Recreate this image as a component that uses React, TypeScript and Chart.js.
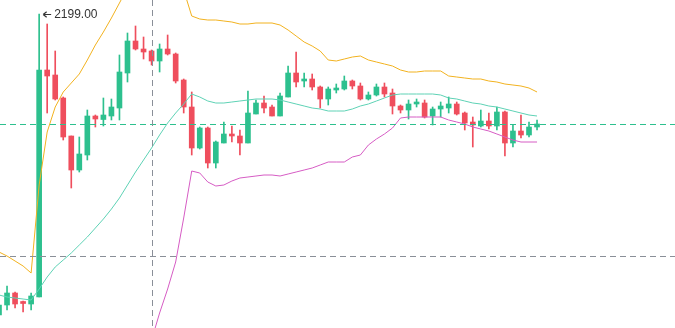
import React, { useEffect, useRef } from 'react';
import { Chart, registerables } from 'chart.js';

Chart.register(...registerables);

// OHLC values, one entry per candle
const opens = [
  1898, 1908, 1920, 1911.5, 1909, 1916, 2143, 2138, 2115, 2077,
  2043, 2058, 2097, 2093.5, 2097, 2105, 2140, 2172, 2164, 2162,
  2152, 2164, 2159, 2133, 2106, 2065, 2085, 2050, 2070, 2079,
  2077, 2070, 2099, 2110, 2106, 2097, 2116, 2140, 2132, 2134,
  2126, 2114, 2123, 2124, 2132, 2127, 2114, 2118, 2126, 2120,
  2107, 2103, 2109, 2110, 2097, 2104, 2105, 2109, 2100, 2091,
  2087, 2092, 2087, 2101, 2070, 2082, 2078, 2086,
];
const highs = [
  1910, 1927, 1921, 1912, 1920, 2199, 2189, 2162, 2116, 2077,
  2076, 2103, 2098, 2115, 2114, 2158, 2180, 2187, 2176, 2163,
  2169, 2178, 2160, 2134, 2121, 2086, 2086, 2072, 2091, 2087,
  2083, 2122, 2113, 2117, 2108, 2120, 2147, 2161, 2140, 2139,
  2127, 2126, 2129, 2137, 2133, 2130, 2121, 2129, 2130, 2124,
  2108, 2113, 2114, 2113, 2106, 2111, 2116, 2111, 2101, 2096,
  2103, 2100, 2106, 2102, 2088, 2098, 2091, 2093,
];
const lows = [
  1896, 1903, 1905, 1901, 1903, 1916, 2100, 2113, 2073, 2025,
  2041, 2053, 2086, 2087, 2093, 2093, 2131, 2163, 2154, 2148,
  2141, 2158, 2130, 2100, 2058, 2064, 2045, 2045, 2070, 2071,
  2058, 2070, 2099, 2100, 2097, 2097, 2116, 2126, 2126, 2123,
  2105, 2108, 2120, 2123, 2124, 2113, 2113, 2117, 2116, 2099,
  2100, 2094, 2106, 2095, 2088, 2096, 2100, 2098, 2083, 2066,
  2086, 2084, 2083, 2057, 2066, 2075, 2076, 2083,
];
const closes = [
  1908, 1920, 1909, 1909.5, 1917, 2143, 2137, 2114, 2076, 2043,
  2059, 2097, 2094, 2098, 2106, 2141, 2172, 2164, 2161, 2152,
  2164, 2159, 2132, 2106, 2065, 2085, 2050, 2071, 2079, 2077,
  2070, 2100, 2110, 2105, 2097, 2117, 2140, 2131, 2134, 2126,
  2114, 2124, 2125, 2132, 2127, 2114, 2118, 2126, 2119, 2107,
  2103, 2109, 2111, 2096, 2104, 2107, 2109, 2099, 2090, 2088,
  2092, 2087, 2101, 2070, 2082, 2078, 2086, 2089,
];

// Bollinger band lines
const bollUpper = [
  1961, 1957, 1952, 1947, 1940, 2028, 2081, 2106, 2121, 2130,
  2139, 2153, 2168, 2181, 2195, 2210, 2225, 2238, 2248, 2253,
  2255, 2251, 2238, 2223, 2197, 2194, 2193, 2193, 2192, 2191,
  2189, 2189, 2190, 2190, 2190, 2188, 2183, 2177, 2171, 2167,
  2162, 2153, 2152, 2154, 2156, 2157, 2153, 2151, 2149, 2147,
  2143, 2141, 2141, 2142, 2142, 2142, 2137, 2136, 2135, 2134,
  2134, 2132, 2131, 2129, 2128, 2127, 2125, 2121,
];
const bollMid = [
  1918, 1916, 1915, 1914, 1913, 1924, 1936, 1946, 1953, 1960,
  1968, 1976, 1985, 1994, 2004, 2015, 2028, 2041, 2053, 2065,
  2078, 2090, 2100, 2109, 2119, 2116, 2112, 2110, 2110, 2111,
  2112, 2113, 2114, 2114, 2114, 2113, 2111, 2109, 2107, 2105,
  2104, 2102, 2102, 2102, 2104, 2107, 2109, 2112, 2115, 2118,
  2119, 2119, 2119, 2119, 2119, 2118, 2115, 2114, 2112, 2110,
  2109, 2107, 2106, 2104, 2102, 2100, 2098, 2097,
];
const bollLower = [
  1873, 1874, 1876, 1879, 1882, 1820, 1791, 1786, 1785, 1790,
  1797, 1799, 1802, 1807, 1813, 1820, 1831, 1844, 1858, 1873,
  1900, 1924, 1951, 1995, 2042, 2040, 2031, 2027, 2028, 2032,
  2035, 2036, 2037, 2038, 2038, 2037, 2039, 2041, 2043, 2045,
  2048, 2051, 2051, 2051, 2056, 2058, 2068, 2074, 2079, 2085,
  2095, 2096, 2096, 2096, 2096, 2096, 2093, 2091, 2089, 2086,
  2084, 2082, 2079, 2076, 2073, 2071, 2071, 2071,
];

const highMarkIndex = 5;
const highMarkLabel = '2199.00';
const crosshairIndex = 19;
const crosshairPrice = 1957;

const priceMin = 1885;
const priceMax = 2213;
const indexMin = 0.1245;
const indexMax = 84.18;

const UP = '#2DC08E';
const DOWN = '#EF4E5D';

const overlayPlugin = {
  id: 'overlay',
  afterDatasetsDraw(chart: any) {
    const { ctx, chartArea, scales } = chart;
    const x = scales.x;
    const y = scales.y;
    ctx.save();
    ctx.lineWidth = 1;
    ctx.setLineDash([6, 4]);

    // last price line
    const lastY = Math.round(y.getPixelForValue(closes[closes.length - 1])) + 0.5;
    ctx.strokeStyle = UP;
    ctx.beginPath();
    ctx.moveTo(chartArea.left, lastY);
    ctx.lineTo(chartArea.right, lastY);
    ctx.stroke();

    // crosshair
    ctx.strokeStyle = '#8A8F98';
    const cy = Math.round(y.getPixelForValue(crosshairPrice)) + 0.5;
    ctx.beginPath();
    ctx.moveTo(chartArea.left, cy);
    ctx.lineTo(chartArea.right, cy);
    ctx.stroke();
    const cx = Math.round(x.getPixelForValue(crosshairIndex)) + 0.5;
    ctx.beginPath();
    ctx.moveTo(cx, chartArea.top);
    ctx.lineTo(cx, chartArea.bottom);
    ctx.stroke();

    // highest price mark
    ctx.setLineDash([]);
    const hx = x.getPixelForValue(highMarkIndex);
    const hy = Math.round(y.getPixelForValue(highs[highMarkIndex])) + 0.5;
    ctx.strokeStyle = '#333333';
    ctx.lineWidth = 1.2;
    ctx.beginPath();
    ctx.moveTo(hx + 4, hy);
    ctx.lineTo(hx + 12, hy);
    ctx.moveTo(hx + 4, hy);
    ctx.lineTo(hx + 7.5, hy - 2.8);
    ctx.moveTo(hx + 4, hy);
    ctx.lineTo(hx + 7.5, hy + 2.8);
    ctx.stroke();
    ctx.fillStyle = '#333333';
    ctx.font = '12px "Liberation Sans", Arial, sans-serif';
    ctx.textAlign = 'left';
    ctx.textBaseline = 'middle';
    ctx.fillText(highMarkLabel, hx + 15, hy);
    ctx.restore();
  },
};

export default function App() {
  const canvasRef = useRef<HTMLCanvasElement | null>(null);

  useEffect(() => {
    const canvas = canvasRef.current;
    if (!canvas) return;
    const colors = closes.map((c, i) => (c >= opens[i] ? UP : DOWN));
    const line = (values: number[], color: string) => ({
      type: 'line' as const,
      data: values.map((v, i) => ({ x: i, y: v })),
      borderColor: color,
      borderWidth: 1,
      pointRadius: 0,
      tension: 0,
      fill: false,
      order: 0,
    });
    const chart = new Chart(canvas, {
      type: 'bar',
      data: {
        datasets: [
          line(bollUpper, '#F2B21F'),
          line(bollMid, '#5ED2B5'),
          line(bollLower, '#D65CC4'),
          {
            type: 'bar',
            data: closes.map((c, i) => ({ x: i, y: [opens[i], c] })),
            backgroundColor: colors,
            borderWidth: 0,
            barThickness: 5,
            minBarLength: 1,
            grouped: false,
            order: 1,
          } as any,
          {
            type: 'bar',
            data: lows.map((l, i) => ({ x: i, y: [l, highs[i]] })),
            backgroundColor: colors,
            borderWidth: 0,
            barThickness: 1,
            grouped: false,
            order: 2,
          } as any,
        ],
      },
      options: {
        animation: false,
        responsive: false,
        maintainAspectRatio: false,
        events: [],
        layout: { padding: 0 },
        plugins: { legend: { display: false }, tooltip: { enabled: false } },
        scales: {
          x: { type: 'linear', min: indexMin, max: indexMax, display: false, offset: false },
          y: { type: 'linear', min: priceMin, max: priceMax, display: false },
        },
      } as any,
      plugins: [overlayPlugin],
    });
    return () => chart.destroy();
  }, []);

  return (
    <div style={{ position: 'absolute', left: 0, top: 0, width: 675, height: 328, background: '#fff' }}>
      <canvas ref={canvasRef} width={675} height={328} style={{ display: 'block' }} />
    </div>
  );
}
